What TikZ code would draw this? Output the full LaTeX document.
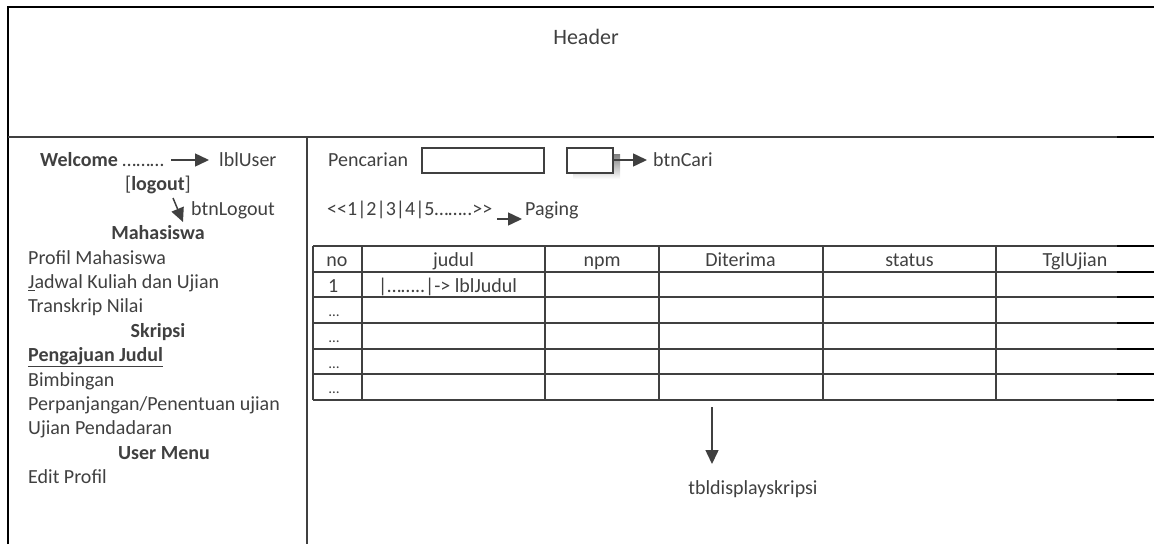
\documentclass[tikz,border=0pt]{standalone}
\usepackage{fontspec}
\setmainfont{Carlito}
\usetikzlibrary{arrows.meta}
\definecolor{ink}{HTML}{404040}
\definecolor{shade}{HTML}{C4C4C4}
\begin{document}
\begin{tikzpicture}[x=1pt,y=-1pt,
  txt/.style={inner sep=0pt, anchor=base west, text=ink, font=\fontsize{20}{24}\selectfont},
  ctxt/.style={txt, anchor=base},
  small/.style={txt, anchor=base, font=\fontsize{15}{18}\selectfont},
  frame/.style={draw=ink, line width=2pt},
  gridline/.style={draw=ink, line width=1.6pt},
  blackend/.style={draw=black, line width=1.8pt},
  arr/.style={draw=ink, line width=1.5pt, -{Triangle[length=14pt,width=13pt]}}]
\useasboundingbox (0,0) rectangle (1154,544);

% frame
\draw[draw=black, line width=2pt] (8,544) -- (8,7) -- (1154,7);
\draw[frame] (8,137) -- (1154,137);
\draw[blackend] (1117,137) -- (1154,137);
\draw[frame] (307,137) -- (307,544);

% header
\node[ctxt, font=\fontsize{22}{26}\selectfont] (hdr) at (586,44) {Header};

% left panel
\node[txt] (welcome) at (40,166.5) {\textbf{Welcome} ………};
\coordinate (wA) at (171,160);
\coordinate (wB) at (209,160);
\draw[arr] (wA) -- (wB);
\node[txt] (lbluser) at (219,166.5) {lblUser};
\node[ctxt] (logout) at (158,190.8) {[\textbf{logout}]};
\coordinate (lA) at (173,198);
\coordinate (lB) at (183,222);
\draw[arr] (lA) -- (lB);
\node[txt] (btnlogout) at (191,215.2) {btnLogout};
\node[ctxt] (mhs) at (158,239.6) {\textbf{Mahasiswa}};
\node[txt] (m1) at (28,264) {Profil Mahasiswa};
\node[txt] (m2) at (28,288.4) {\underline{J}adwal Kuliah dan Ujian};
\node[txt] (m3) at (28,312.8) {Transkrip Nilai};
\node[ctxt] (skr) at (158,337.2) {\textbf{Skripsi}};
\node[txt] (m4) at (28,361.6) {\underline{\textbf{Pengajuan Judul}}};
\node[txt] (m5) at (28,386) {Bimbingan};
\node[txt] (m6) at (28,410.4) {Perpanjangan/Penentuan ujian};
\node[txt] (m7) at (28,434.8) {Ujian Pendadaran};
\node[ctxt] (umenu) at (164,459.2) {\textbf{User Menu}};
\node[txt] (m8) at (28,483.6) {Edit Profil};

% search
\node[txt] (pencarian) at (328,166.5) {Pencarian};
\draw[draw=ink, line width=1.5pt] (422,148) rectangle (544,173);
\fill[shade] (573,154) rectangle (620,179);
\draw[draw=ink, line width=1.5pt, fill=white] (567,148) rectangle (613,173);
\coordinate (bA) at (613,160);
\coordinate (bB) at (647,160);
\draw[arr] (bA) -- (bB);
\node[txt] (btncari) at (653,166.5) {btnCari};

% paging
\node[txt] (paging) at (327,215.5) {{<}{<}1|2|3|4|5……..{>}{>}};
\coordinate (pA) at (497,219);
\coordinate (pB) at (522,219);
\draw[arr] (pA) -- (pB);
\node[txt] (paginglbl) at (525,215.5) {Paging};

% table
\foreach \y in {246,272,297,323,349,374,400} {
  \draw[gridline] (313,\y) -- (1154,\y);
  \draw[blackend] (1117,\y) -- (1154,\y);
}
\foreach \x in {313,362,545,659,823,996} {
  \draw[gridline] (\x,246) -- (\x,400);
}
\node[ctxt] (hno) at (337,266.5) {no};
\node[ctxt] (hjudul) at (453.5,266.5) {judul};
\node[ctxt] (hnpm) at (602,266.5) {npm};
\node[ctxt] (hditerima) at (740.5,266.5) {Diterima};
\node[ctxt] (hstatus) at (909.5,266.5) {status};
\node[ctxt] (htgl) at (1075,266.5) {TglUjian};
\node[txt] (r1no) at (328,292) {1};
\node[txt] (r1judul) at (378,292) {|……..|-> lblJudul};
\foreach \y/\n in {316/a,342/b,368/c,393/d} {
  \node[small] (dots\n) at (334,\y) {…};
}

% table label
\coordinate (tA) at (712,407);
\coordinate (tB) at (712,464);
\draw[arr] (tA) -- (tB);
\node[ctxt] (tbl) at (753,494) {tbldisplayskripsi};
\end{tikzpicture}
\end{document}
